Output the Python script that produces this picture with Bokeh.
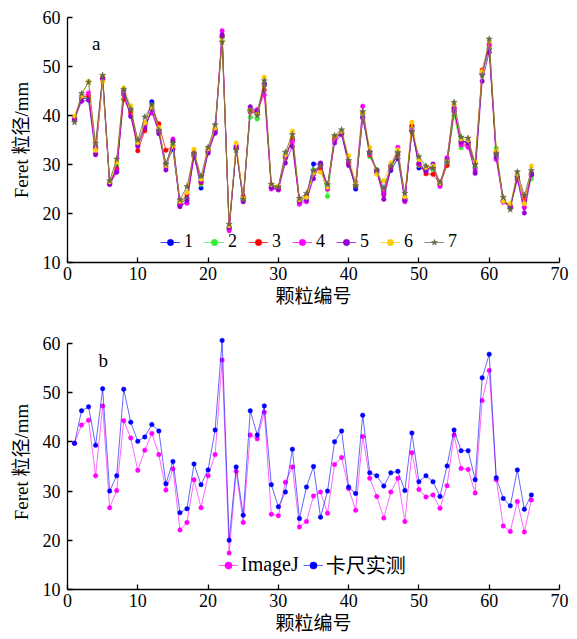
from bokeh.plotting import figure
from bokeh.layouts import column
from bokeh.models import Range1d, Legend, LegendItem, Label, FixedTicker
from bokeh.embed import file_html
from bokeh.resources import INLINE

# ---------------- data ----------------
particle = list(range(1, 67))

# panel a: seven repeated ImageJ measurements
s1 = [39.3, 43.5, 43.5, 33.7, 47.6, 26.2, 29.0, 45.0, 41.0, 34.6, 38.0, 42.8, 37.0, 30.1, 33.1, 21.8, 23.1, 32.0, 25.2, 32.6,
      36.6, 56.0, 17.2, 33.4, 22.8, 40.8, 40.5, 46.5, 25.3, 25.2, 31.8, 35.0, 22.6, 23.4, 30.1, 30.1, 25.3, 35.4, 36.3, 30.6,
      25.0, 39.7, 32.3, 28.5, 24.4, 28.8, 31.2, 22.6, 37.5, 29.3, 29.0, 29.2, 26.0, 30.3, 40.8, 34.8, 34.6, 29.3, 48.5, 53.6,
      32.0, 22.6, 21.6, 27.5, 22.5, 27.8]
s2 = [39.5, 43.6, 43.7, 33.4, 47.8, 26.4, 29.7, 44.6, 40.8, 34.3, 37.6, 42.0, 36.5, 30.3, 34.0, 22.3, 22.8, 32.2, 25.9, 32.8,
      37.0, 55.9, 17.0, 33.6, 23.0, 39.7, 39.3, 46.0, 25.6, 25.0, 31.2, 35.4, 22.9, 23.0, 28.9, 29.6, 23.5, 35.5, 36.5, 30.4,
      25.6, 40.2, 31.6, 29.0, 24.6, 29.2, 31.8, 22.9, 37.6, 29.8, 29.2, 29.0, 25.8, 30.0, 40.0, 33.4, 34.2, 29.5, 48.6, 54.0,
      33.3, 22.8, 21.4, 26.8, 22.2, 27.1]
s3 = [39.6, 43.8, 44.0, 33.2, 47.7, 26.3, 29.2, 43.3, 40.5, 32.8, 36.9, 41.6, 38.3, 32.9, 33.6, 22.0, 23.9, 32.4, 26.3, 33.0,
      37.2, 56.2, 16.9, 33.3, 23.5, 41.2, 40.6, 45.2, 25.7, 25.4, 31.5, 35.2, 22.5, 23.6, 28.5, 29.2, 25.0, 35.2, 36.7, 30.2,
      25.8, 40.5, 32.0, 28.7, 23.8, 29.5, 32.0, 23.1, 38.0, 30.0, 28.1, 28.0, 26.0, 29.8, 41.2, 34.3, 34.0, 30.2, 49.3, 54.4,
      32.5, 22.5, 21.3, 27.6, 22.9, 28.0]
s4 = [39.4, 43.9, 44.6, 32.3, 47.5, 26.0, 28.7, 44.5, 40.0, 34.0, 38.2, 40.5, 36.8, 29.5, 35.2, 21.6, 22.1, 32.0, 26.6, 32.8,
      36.8, 57.3, 16.5, 33.9, 22.6, 40.7, 41.2, 44.2, 25.0, 24.8, 31.6, 34.6, 21.9, 22.4, 28.0, 29.8, 25.0, 34.9, 36.4, 30.5,
      26.4, 41.9, 32.2, 28.3, 24.0, 29.4, 33.5, 22.4, 37.0, 30.1, 28.7, 29.5, 25.5, 31.4, 41.7, 34.0, 33.5, 28.7, 48.8, 54.6,
      31.0, 22.3, 21.5, 26.9, 21.2, 28.3]
s5 = [39.2, 42.9, 43.1, 32.0, 47.3, 25.9, 28.4, 44.2, 39.8, 33.7, 37.4, 41.2, 36.3, 28.9, 34.8, 21.4, 22.6, 31.6, 26.6, 32.3,
      36.4, 56.5, 17.1, 33.5, 22.4, 41.8, 40.9, 46.2, 25.3, 24.9, 30.3, 33.7, 22.4, 22.7, 27.1, 30.3, 25.6, 34.4, 36.1, 29.8,
      25.5, 39.5, 32.6, 28.8, 22.9, 29.1, 32.6, 22.7, 36.7, 30.3, 28.6, 30.1, 26.1, 31.0, 41.4, 34.6, 34.4, 28.2, 47.0, 52.9,
      31.5, 22.6, 21.2, 27.2, 20.1, 28.0]
s6 = [39.9, 44.0, 47.0, 32.9, 46.9, 26.5, 30.5, 45.6, 42.0, 34.5, 38.5, 41.8, 37.5, 29.8, 33.8, 22.5, 24.3, 33.1, 27.0, 33.2,
      37.5, 55.2, 17.5, 34.4, 23.1, 41.0, 40.2, 47.8, 25.9, 25.6, 32.0, 36.8, 22.8, 23.3, 28.3, 28.4, 25.4, 35.8, 36.8, 31.8,
      26.0, 40.5, 33.5, 28.0, 26.7, 30.3, 33.0, 23.4, 38.6, 31.0, 29.4, 29.7, 26.2, 30.6, 42.3, 35.2, 35.0, 30.6, 49.0, 55.2,
      32.8, 22.5, 22.0, 28.0, 22.0, 29.7]
s7 = [38.6, 44.5, 46.8, 34.3, 48.2, 26.7, 31.1, 45.3, 41.3, 35.0, 39.7, 42.2, 37.0, 30.1, 34.4, 22.8, 25.5, 32.3, 27.6, 33.5,
      38.1, 55.0, 17.8, 32.9, 22.9, 41.0, 40.0, 47.1, 26.0, 25.4, 32.5, 36.1, 23.1, 24.1, 28.8, 29.7, 25.9, 35.9, 37.1, 30.8,
      25.7, 40.8, 32.5, 28.8, 25.2, 29.7, 32.4, 24.1, 36.7, 31.6, 29.7, 29.3, 26.4, 30.5, 42.7, 35.6, 35.4, 30.0, 48.2, 55.6,
      32.2, 23.3, 20.8, 28.5, 23.7, 28.8]
series_a = [s1, s2, s3, s4, s5, s6, s7]
labels_a = ["1", "2", "3", "4", "5", "6", "7"]
colors_a = ["#0000FF", "#33EE33", "#FF0000", "#FF00FF", "#9400D3", "#FFCC00", "#666644"]
markers_a = ["circle", "circle", "circle", "circle", "circle", "circle", "star"]

# panel b: ImageJ vs caliper
imagej = [39.7, 43.4, 44.4, 33.1, 47.3, 26.6, 30.1, 44.3, 40.8, 34.2, 38.3, 41.7, 37.4, 30.2, 34.5, 22.1, 23.6, 32.3, 26.6, 33.1,
          37.4, 56.6, 17.4, 34.0, 23.6, 41.4, 40.6, 46.0, 25.3, 25.0, 31.8, 34.9, 22.7, 23.8, 29.0, 29.8, 25.5, 35.4, 36.8, 30.5,
          26.1, 41.1, 32.6, 28.9, 24.5, 29.8, 32.6, 23.8, 37.8, 30.3, 28.8, 29.2, 26.5, 31.1, 41.4, 34.6, 34.4, 29.6, 48.4, 54.5,
          32.3, 22.9, 21.8, 27.9, 21.7, 28.2]
caliper = [39.7, 46.3, 47.1, 39.3, 50.8, 30.0, 33.1, 50.7, 44.0, 40.1, 41.0, 43.5, 42.2, 31.5, 36.0, 25.6, 26.4, 35.5, 31.3, 34.3,
           42.4, 60.6, 20.0, 34.9, 25.1, 46.3, 41.4, 47.3, 31.3, 26.8, 29.8, 38.5, 24.4, 30.8, 35.0, 24.7, 30.0, 40.0, 42.2, 30.8,
           29.5, 45.4, 33.7, 33.1, 31.0, 33.7, 34.0, 30.1, 41.8, 31.9, 33.1, 31.9, 28.9, 35.1, 42.4, 38.2, 38.2, 32.3, 53.0, 57.8,
           32.7, 28.5, 27.0, 34.3, 26.3, 29.2]
labels_b = ["ImageJ", "卡尺实测"]
colors_b = ["#FF00FF", "#0000FF"]

x_ticks = [0, 10, 20, 30, 40, 50, 60, 70]
y_ticks = [10, 20, 30, 40, 50, 60]

SERIF = "Liberation Serif, Noto Sans CJK SC"


def make_fig(height, top, bottom, ytop):
    p = figure(width=577, height=height, x_range=Range1d(0, 70), y_range=Range1d(10, ytop),
               output_backend="svg", toolbar_location=None,
               min_border_left=67, min_border_right=18, min_border_top=top, min_border_bottom=bottom)
    p.outline_line_color = None
    p.grid.visible = False
    p.background_fill_color = "white"
    p.xaxis.ticker = FixedTicker(ticks=x_ticks)
    p.yaxis.ticker = FixedTicker(ticks=y_ticks)
    p.yaxis.bounds = (10, 60)
    for ax in p.axis:
        ax.major_tick_in = 5
        ax.major_tick_out = 0
        ax.minor_tick_in = 0
        ax.minor_tick_out = 0
        ax.axis_line_width = 1.3
        ax.major_tick_line_width = 1.3
        ax.major_label_text_font = SERIF
        ax.major_label_text_font_size = "18px"
        ax.major_label_text_color = "black"
        ax.axis_label_text_font = SERIF
        ax.axis_label_text_font_size = "19px"
        ax.axis_label_text_font_style = "normal"
        ax.axis_label_text_color = "black"
        ax.major_label_standoff = 4
        ax.axis_label_standoff = 3
    p.xaxis.axis_label = "颗粒编号"
    p.yaxis.axis_label = "Feret 粒径/mm"
    p.yaxis.major_label_standoff = 7
    p.yaxis.axis_label_standoff = 8
    return p


# ---------------- panel a ----------------
pa = make_fig(320, 17, 58, 60)
items_a = []
for ys, lab, col, mk in zip(series_a, labels_a, colors_a, markers_a):
    r_line = pa.line(particle, ys, line_color=col, line_width=1, line_alpha=0.75)
    r_pts = pa.scatter(particle, ys, marker=mk, size=(6.5 if mk == "star" else 4.5),
                       fill_color=col, line_color=col, line_width=0.5)
    items_a.append(LegendItem(label=lab, renderers=[r_line, r_pts]))
leg_a = Legend(items=items_a, orientation="horizontal", location=(93, 10),
               background_fill_alpha=0, border_line_alpha=0, glyph_width=20, glyph_height=16,
               label_standoff=4, spacing=11, padding=0, margin=0, label_width=0,
               label_text_font=SERIF, label_text_font_size="18px", label_text_color="black")
pa.add_layout(leg_a)
pa.add_layout(Label(x=3.5, y=54.7, text="a", text_font=SERIF, text_font_size="19px", text_color="black",
                    text_align="left", text_baseline="alphabetic"))

# ---------------- panel b ----------------
# frame extended slightly above 60 so the caliper peak is not clipped
pb = make_fig(319, 14, 50, 61.8)
items_b = []
for ys, lab, col in zip([imagej, caliper], labels_b, colors_b):
    r_line = pb.line(particle, ys, line_color=col, line_width=1, line_alpha=0.6)
    r_pts = pb.scatter(particle, ys, marker="circle", size=4.5, fill_color=col, line_color=col, line_width=0.5)
    items_b.append(LegendItem(label=lab, renderers=[r_line, r_pts]))
leg_b = Legend(items=items_b, orientation="horizontal", location=(151, 10),
               background_fill_alpha=0, border_line_alpha=0, glyph_width=20, glyph_height=18,
               label_standoff=3, spacing=4, padding=0, margin=0, label_width=0,
               label_text_font=SERIF, label_text_font_size="20px", label_text_color="black")
pb.add_layout(leg_b)
pb.add_layout(Label(x=4.4, y=56.6, text="b", text_font=SERIF, text_font_size="19px", text_color="black",
                    text_align="left", text_baseline="alphabetic"))

layout = column(pa, pb, spacing=0)
open("out.html", "w").write(file_html(layout, INLINE))
